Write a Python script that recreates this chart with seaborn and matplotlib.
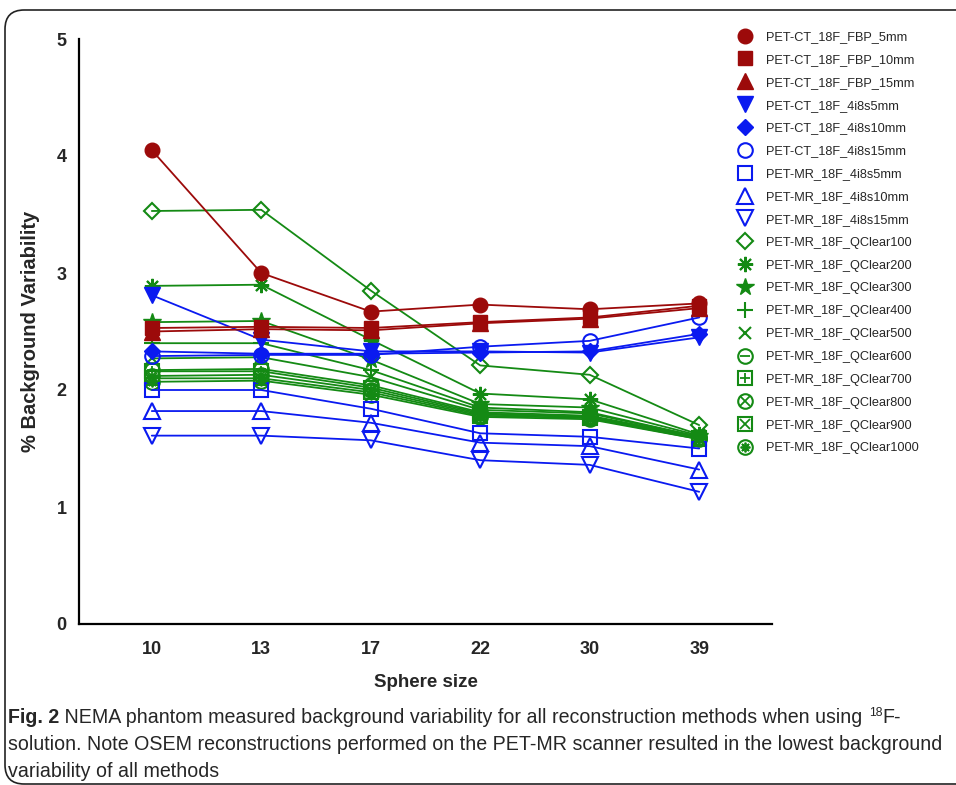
import matplotlib
matplotlib.use("Agg")
import matplotlib.pyplot as plt
import matplotlib.font_manager as fm
from matplotlib.lines import Line2D
from matplotlib.patches import FancyBboxPatch
from matplotlib.legend_handler import HandlerTuple
import seaborn as sns
import pandas as pd

# ---------------- data ----------------
sphere_sizes = ["10", "13", "17", "22", "30", "39"]

series_names = [
    "PET-CT_18F_FBP_5mm", "PET-CT_18F_FBP_10mm", "PET-CT_18F_FBP_15mm",
    "PET-CT_18F_4i8s5mm", "PET-CT_18F_4i8s10mm", "PET-CT_18F_4i8s15mm",
    "PET-MR_18F_4i8s5mm", "PET-MR_18F_4i8s10mm", "PET-MR_18F_4i8s15mm",
    "PET-MR_18F_QClear100", "PET-MR_18F_QClear200", "PET-MR_18F_QClear300",
    "PET-MR_18F_QClear400", "PET-MR_18F_QClear500", "PET-MR_18F_QClear600",
    "PET-MR_18F_QClear700", "PET-MR_18F_QClear800", "PET-MR_18F_QClear900",
    "PET-MR_18F_QClear1000",
]

ct_fbp_5mm = [4.05, 3.00, 2.67, 2.73, 2.69, 2.74]
ct_fbp_10mm = [2.53, 2.54, 2.53, 2.58, 2.62, 2.72]
ct_fbp_15mm = [2.50, 2.52, 2.51, 2.57, 2.61, 2.70]
ct_osem_5mm = [2.81, 2.43, 2.33, 2.33, 2.32, 2.45]
ct_osem_10mm = [2.33, 2.31, 2.31, 2.32, 2.33, 2.48]
ct_osem_15mm = [2.29, 2.30, 2.30, 2.37, 2.42, 2.62]
mr_osem_5mm = [2.00, 2.00, 1.84, 1.63, 1.60, 1.50]
mr_osem_10mm = [1.82, 1.82, 1.72, 1.55, 1.52, 1.32]
mr_osem_15mm = [1.61, 1.61, 1.57, 1.40, 1.36, 1.13]
mr_qclear100 = [3.53, 3.54, 2.85, 2.21, 2.13, 1.70]
mr_qclear200 = [2.89, 2.90, 2.43, 1.97, 1.92, 1.62]
mr_qclear300 = [2.58, 2.59, 2.26, 1.88, 1.85, 1.61]
mr_qclear400 = [2.40, 2.40, 2.17, 1.85, 1.81, 1.60]
mr_qclear500 = [2.27, 2.28, 2.11, 1.83, 1.80, 1.60]
mr_qclear600 = [2.17, 2.18, 2.04, 1.81, 1.78, 1.60]
mr_qclear700 = [2.16, 2.16, 2.02, 1.80, 1.77, 1.59]
mr_qclear800 = [2.12, 2.13, 2.00, 1.79, 1.77, 1.59]
mr_qclear900 = [2.10, 2.10, 1.98, 1.78, 1.76, 1.58]
mr_qclear1000 = [2.07, 2.08, 1.96, 1.77, 1.75, 1.58]

series_values = [
    ct_fbp_5mm, ct_fbp_10mm, ct_fbp_15mm,
    ct_osem_5mm, ct_osem_10mm, ct_osem_15mm,
    mr_osem_5mm, mr_osem_10mm, mr_osem_15mm,
    mr_qclear100, mr_qclear200, mr_qclear300, mr_qclear400, mr_qclear500,
    mr_qclear600, mr_qclear700, mr_qclear800, mr_qclear900, mr_qclear1000,
]

y_ticks = [0, 1, 2, 3, 4, 5]

caption_bold = "Fig. 2"
caption_lines = [
    " NEMA phantom measured background variability for all reconstruction methods when using ",
    "solution. Note OSEM reconstructions performed on the PET-MR scanner resulted in the lowest background",
    "variability of all methods",
]

# ---------------- styles ----------------
RED = "#9C0A0A"
BLUE = "#0A1AF0"
GREEN = "#148A14"
AST = (8, 2, 0)

# (color, marker, filled, overlay-marker or None)
styles = [
    (RED, "o", True, None), (RED, "s", True, None), (RED, "^", True, None),
    (BLUE, "v", True, None), (BLUE, "D", True, None), (BLUE, "o", False, None),
    (BLUE, "s", False, None), (BLUE, "^", False, None), (BLUE, "v", False, None),
    (GREEN, "D", False, None), (GREEN, AST, False, None), (GREEN, "*", True, None),
    (GREEN, "+", False, None), (GREEN, "x", False, None), (GREEN, "o", False, "_"),
    (GREEN, "s", False, "+"), (GREEN, "o", False, "x"), (GREEN, "s", False, "x"),
    (GREEN, "o", False, AST),
]
msizes = {"o": 10.5, "s": 10.5, "^": 11, "v": 11, "D": 8.5, "*": 13,
          "+": 11, "x": 9, "_": 10}

def msize(m):
    return msizes.get(m, 11) if not isinstance(m, tuple) else 11

names = {f.name for f in fm.fontManager.ttflist}
NARROW = "Liberation Sans Narrow" if "Liberation Sans Narrow" in names else "Liberation Sans"

sns.set_style("white")
plt.rcParams["font.family"] = ["Liberation Sans", "DejaVu Sans"]

rows = []
for name, vals in zip(series_names, series_values):
    for i, (s, v) in enumerate(zip(sphere_sizes, vals)):
        rows.append({"series": name, "size": s, "pos": i, "value": v})
df = pd.DataFrame(rows)

fig = plt.figure(figsize=(9.56, 7.85), dpi=100)
W, H = 956, 785
ax = fig.add_axes([79 / W, 161 / H, 693 / W, 585 / H])

handles = []
for k, (name, (col, mk, filled, over)) in enumerate(zip(series_names, styles)):
    sub = df[df["series"] == name]
    ms = msize(mk)
    sns.lineplot(data=sub, x="pos", y="value", ax=ax, color=col, lw=1.3,
                 marker=mk, markersize=ms,
                 markerfacecolor=(col if filled else "none"),
                 markeredgecolor=col, markeredgewidth=(1.0 if filled else 1.5),
                 legend=False, zorder=3 + (19 - k) * 0.01, estimator=None, sort=False)
    h = Line2D([], [], ls="none", marker=mk, markersize=ms,
               markerfacecolor=(col if filled else "none"), markeredgecolor=col,
               markeredgewidth=(1.0 if filled else 1.5))
    if over is not None:
        ms2 = 7 if isinstance(over, tuple) else (ms * 0.75)
        ax.plot(sub["pos"], sub["value"], ls="none", marker=over, markersize=ms2,
                markeredgecolor=col, markeredgewidth=1.3, zorder=3.5)
        h2 = Line2D([], [], ls="none", marker=over, markersize=ms2,
                    markeredgecolor=col, markeredgewidth=1.3)
        handles.append((h, h2))
    else:
        handles.append(h)

ax.set_xlim(-0.665, 5.665)
ax.set_ylim(0, 5)
ax.set_xticks(range(len(sphere_sizes)))
ax.set_xticklabels(sphere_sizes)
ax.set_yticks(y_ticks)
ax.set_yticklabels([str(t) for t in y_ticks])
for sp in ["top", "right"]:
    ax.spines[sp].set_visible(False)
for sp in ["left", "bottom"]:
    ax.spines[sp].set_linewidth(1.6)
    ax.spines[sp].set_color("black")
ax.tick_params(axis="both", direction="out", length=6, width=1.6, color="black",
               labelsize=13, pad=3)
for lab in ax.get_xticklabels() + ax.get_yticklabels():
    lab.set_fontweight("bold")
    lab.set_family([NARROW, "Liberation Sans"])
ax.tick_params(axis="x", pad=6)
ax.set_xlabel("Sphere size", fontsize=13.5, fontweight="bold", labelpad=12,
              family=[NARROW, "Liberation Sans"])
ax.set_ylabel("% Background Variability", fontsize=14.5, fontweight="bold",
              labelpad=12, family=[NARROW, "Liberation Sans"])
ax.grid(False)
ax.set_facecolor("none")

leg = fig.legend(handles, series_names, loc="upper left",
                 bbox_to_anchor=(737 / W, 1 - 31 / H), frameon=False,
                 handlelength=1.2, handletextpad=1.05, labelspacing=0.85,
                 borderaxespad=0, borderpad=0,
                 prop={"family": [NARROW, "Liberation Sans"], "size": 9.2},
                 handler_map={tuple: HandlerTuple(ndivide=1)})

# caption
cap_fs = 14.1
cap_kw = dict(fontsize=cap_fs, ha="left", va="baseline", family="Liberation Sans")
base_y = [723, 750, 777]
renderer = fig.canvas.get_renderer()
t_bold = fig.text(8 / W, 1 - base_y[0] / H, caption_bold, fontweight="bold", **cap_kw)
bb = t_bold.get_window_extent(renderer)
t1 = fig.text(bb.x1 / W, 1 - base_y[0] / H, caption_lines[0], **cap_kw)
bb1 = t1.get_window_extent(renderer)
t_sup = fig.text(bb1.x1 / W + 1 / W, 1 - (base_y[0] - 7) / H, "18",
                 fontsize=cap_fs * 0.62, ha="left", va="baseline", family="Liberation Sans")
bb2 = t_sup.get_window_extent(renderer)
fig.text(bb2.x1 / W, 1 - base_y[0] / H, "F-", **cap_kw)
fig.text(8 / W, 1 - base_y[1] / H, caption_lines[1], **cap_kw)
fig.text(8 / W, 1 - base_y[2] / H, caption_lines[2], **cap_kw)

# rounded frame
frame = FancyBboxPatch((5 / W, 1 - 784 / H), 1.2, (784 - 10) / H,
                       boxstyle="round,pad=0,rounding_size=0.02",
                       transform=fig.transFigure, fill=False, ec="#222222",
                       lw=1.2, clip_on=False, mutation_aspect=W / H)
fig.add_artist(frame)

fig.savefig("out.png", dpi=100)
